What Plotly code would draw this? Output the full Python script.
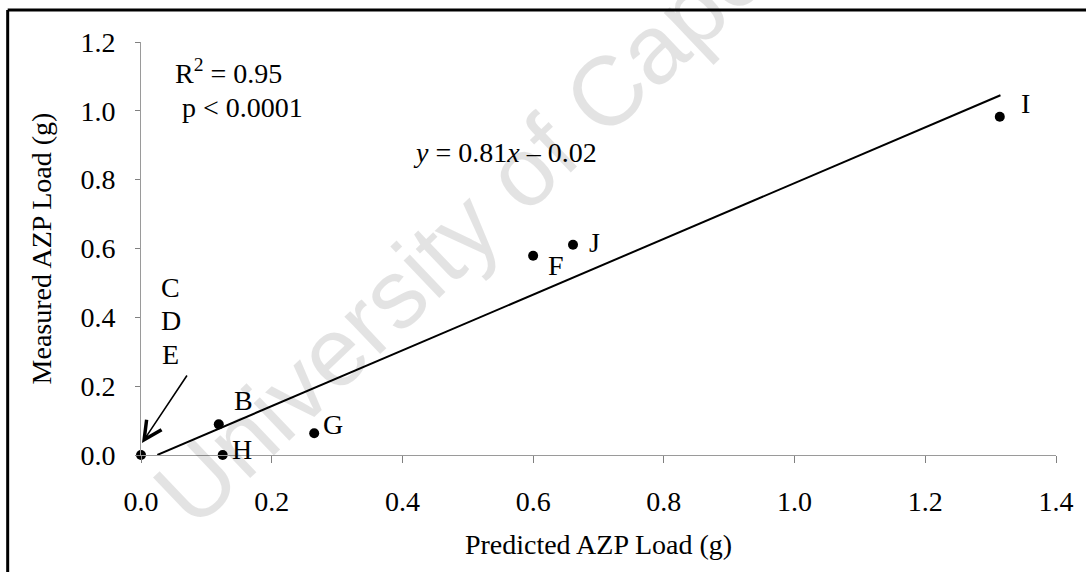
import plotly.graph_objects as go

# Data
labels = ["C/D/E", "B", "H", "G", "F", "J", "I"]
predicted = [0.0, 0.119, 0.125, 0.265, 0.600, 0.661, 1.314]
measured = [0.0, 0.089, 0.0, 0.063, 0.579, 0.611, 0.983]

fit_slope = 0.81
fit_intercept = -0.02
fit_x = [0.025, 1.315]
fit_y = [fit_slope * v + fit_intercept for v in fit_x]

x_ticks = [0.0, 0.2, 0.4, 0.6, 0.8, 1.0, 1.2, 1.4]
y_ticks = [0.0, 0.2, 0.4, 0.6, 0.8, 1.0, 1.2]

FONT = "Liberation Serif, Times New Roman, serif"
FS = 28

fig = go.Figure()
fig.add_trace(go.Scatter(x=fit_x, y=fit_y, mode="lines",
                         line=dict(color="black", width=2),
                         showlegend=False, hoverinfo="skip"))
fig.add_trace(go.Scatter(x=predicted, y=measured, mode="markers",
                         marker=dict(color="black", size=10),
                         text=labels, cliponaxis=False, showlegend=False))

ann = []
def label(text, x, y, xanchor="left"):
    ann.append(dict(x=x, y=y, xref="x", yref="y", text=text, showarrow=False,
                    xanchor=xanchor, yanchor="middle",
                    font=dict(family=FONT, size=FS, color="black")))

label("R<sup>2</sup> = 0.95", 0.049, 1.115)
label("p < 0.0001", 0.059, 1.011)
label("<i>y</i> = 0.81<i>x</i> \u2013 0.02", 0.4125, 0.880)
label("B", 0.1385, 0.157)
label("H", 0.1355, 0.0174)
label("G", 0.2755, 0.0872)
label("F", 0.6195, 0.552)
label("J", 0.683, 0.616)
label("I", 1.344, 1.020)
label("C", 0.0457, 0.488, "center")
label("D", 0.0457, 0.392, "center")
label("E", 0.0457, 0.293, "center")

# arrow pointing at C, D, E
ann.append(dict(x=0.0015, y=0.035, xref="x", yref="y", ax=46, ay=-69,
                axref="pixel", ayref="pixel", text="", showarrow=True,
                arrowhead=5, arrowsize=2.2, arrowwidth=1.6, arrowcolor="black"))

# watermark
ann.append(dict(x=0.45, y=0.755, xref="paper", yref="paper",
                text="University of Cape Town", showarrow=False, textangle=-43.6,
                xanchor="center", yanchor="middle",
                font=dict(family="Liberation Sans, Arial, sans-serif", size=98,
                          color="rgba(0,0,0,0.11)")))

axis_common = dict(showgrid=False, zeroline=False, showline=True,
                   linecolor="#9a9a9a", linewidth=1, ticks="outside",
                   tickcolor="#808080", tickwidth=1,
                   tickfont=dict(family=FONT, size=FS, color="black"))

fig.update_layout(
    width=1086, height=572,
    margin=dict(l=141, r=25, t=42, b=117),
    paper_bgcolor="white", plot_bgcolor="white",
    xaxis=dict(range=[0, 1.4], tickvals=x_ticks,
               ticktext=[f"{v:.1f}" for v in x_ticks], ticklen=7,
               ticklabelstandoff=14,
               title=dict(text="Predicted AZP Load (g)", standoff=18,
                          font=dict(family=FONT, size=FS, color="black")),
               **axis_common),
    yaxis=dict(range=[0, 1.2], tickvals=y_ticks,
               ticktext=[f"{v:.1f}" for v in y_ticks], ticklen=5,
               ticklabelstandoff=14,
               title=dict(text="Measured AZP Load (g)", standoff=20,
                          font=dict(family=FONT, size=FS, color="black")),
               **axis_common),
    annotations=ann,
    shapes=[
        dict(type="line", xref="paper", yref="paper", x0=-0.1457, x1=1.05,
             y0=1.0775, y1=1.0775, line=dict(color="black", width=3)),
        dict(type="line", xref="paper", yref="paper", x0=-0.1457, x1=-0.1457,
             y0=1.0775, y1=-0.35, line=dict(color="black", width=3)),
    ],
)

fig.write_html("out.html")
